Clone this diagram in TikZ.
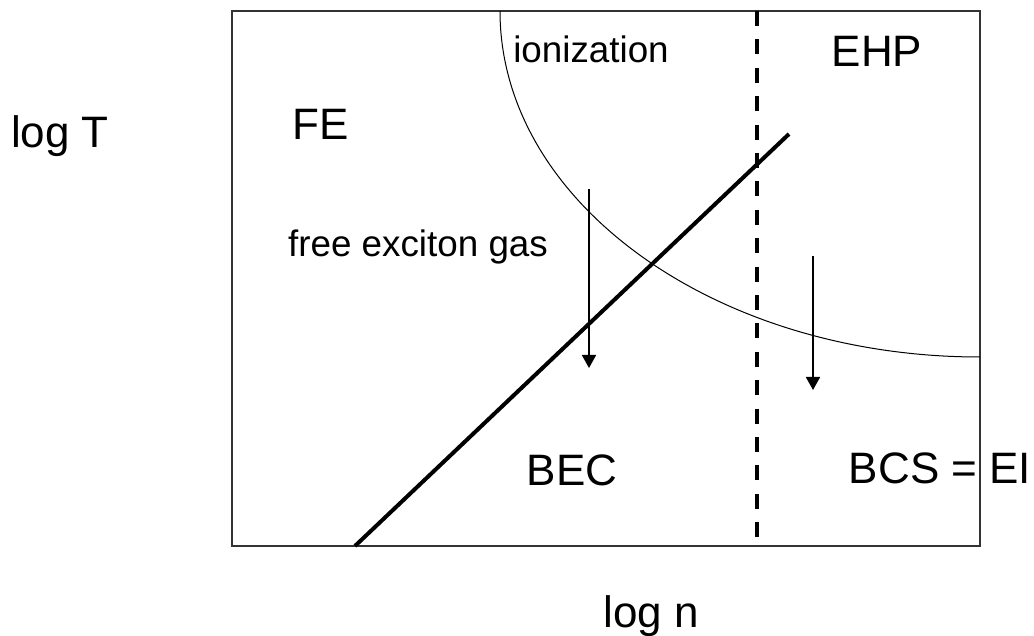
\documentclass[tikz,border=0pt]{standalone}
\usepackage{fontspec}
\setmainfont{Liberation Sans}
\usetikzlibrary{arrows.meta}

\begin{document}
\begin{tikzpicture}[x=0.5pt,y=-0.5pt,
  big/.style={font=\fontsize{22}{26}\selectfont,inner sep=0pt,anchor=base},
  small/.style={font=\fontsize{18.4}{22}\selectfont,inner sep=0pt,anchor=base},
  down/.style={line width=0.9pt,-{Triangle[width=7pt,length=6.5pt]}}]
\useasboundingbox (0,0) rectangle (1034,636);
% frame and phase boundaries
\draw[line width=0.75pt,draw=black!80] (232,11) rectangle (980,546);
\draw[line width=0.5pt] (500,11) arc[start angle=180,end angle=270,x radius=240pt,y radius=173pt];
\draw[line width=2pt,dash pattern=on 7.5pt off 6.7pt] (757,11) -- (757,546);
\draw[line width=2pt] (355,546) -- (789,134);
% cooling arrows
\coordinate (c1) at (589,189);
\coordinate (c2) at (589,368);
\coordinate (c3) at (813,256);
\coordinate (c4) at (813,390);
\draw[down] (c1) -- (c2);
\draw[down] (c3) -- (c4);
% labels
\node[big] (logT) at (60,148) {log T};
\node[big] (fe) at (321,140) {FE};
\node[small] (ion) at (591,63) {ionization};
\node[big] (ehp) at (877,67) {EHP};
\node[small] (gas) at (418,257) {free exciton gas};
\node[big] (bec) at (572,485) {BEC};
\node[big] (bcs) at (940,483) {BCS = EI};
\node[big] (logn) at (651,627) {log n};
\end{tikzpicture}
\end{document}
